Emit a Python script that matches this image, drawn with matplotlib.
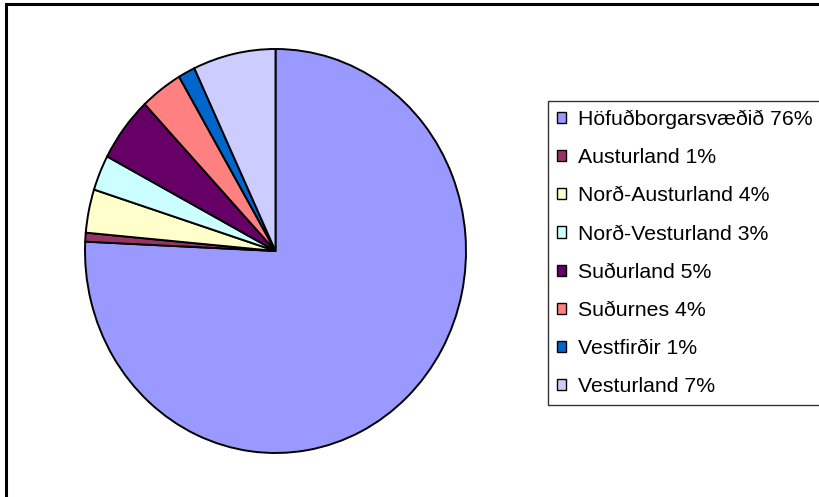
import matplotlib.pyplot as plt
from matplotlib.patches import Patch, Rectangle

regions = ["Höfuðborgarsvæðið", "Austurland", "Norð-Austurland", "Norð-Vesturland",
           "Suðurland", "Suðurnes", "Vestfirðir", "Vesturland"]
shares = [75.7, 0.71, 3.47, 2.83, 5.2, 3.6, 1.44, 7.0]
pct_labels = ["76%", "1%", "4%", "3%", "5%", "4%", "1%", "7%"]
colors = ["#9999FF", "#993366", "#FFFFCC", "#CCFFFF",
          "#660066", "#FF8080", "#0066CC", "#CCCCFF"]

plt.rcParams['font.family'] = ['Liberation Sans', 'DejaVu Sans']

W, H = 819, 497
fig = plt.figure(figsize=(W / 100, H / 100), dpi=100)

# outer chart border (cropped at right and bottom)
fig.patches.append(Rectangle((6 / W, -0.1), 1.2, 1 - 4 / H + 0.1,
                             transform=fig.transFigure, fill=False,
                             edgecolor="black", linewidth=2.2))

# pie is slightly taller than wide in the original
left, right, top, bottom = 85, 466, 49, 453
ax = fig.add_axes([left / W, (H - bottom) / H, (right - left) / W, (bottom - top) / H])
ax.pie(shares, colors=colors, startangle=90, counterclock=False,
       wedgeprops=dict(edgecolor="black", linewidth=1.4))
ax.set_aspect("auto")
ax.set_xlim(-1.0, 1.0)
ax.set_ylim(-1.0, 1.0)

handles = [Patch(facecolor=c, edgecolor="black", linewidth=1) for c in colors]
labels = [f"{n} {p}" for n, p in zip(regions, pct_labels)]
leg = fig.legend(handles, labels, loc="upper left",
                 bbox_to_anchor=(548 / W, 1 - 101 / H),
                 fontsize=15.3, frameon=True, fancybox=False,
                 edgecolor="black", borderaxespad=0, borderpad=0.42,
                 handlelength=0.43, handleheight=0.43, handletextpad=0.55,
                 labelspacing=0.9)
leg.get_frame().set_linewidth(1)

fig.savefig("out.png", dpi=100)
